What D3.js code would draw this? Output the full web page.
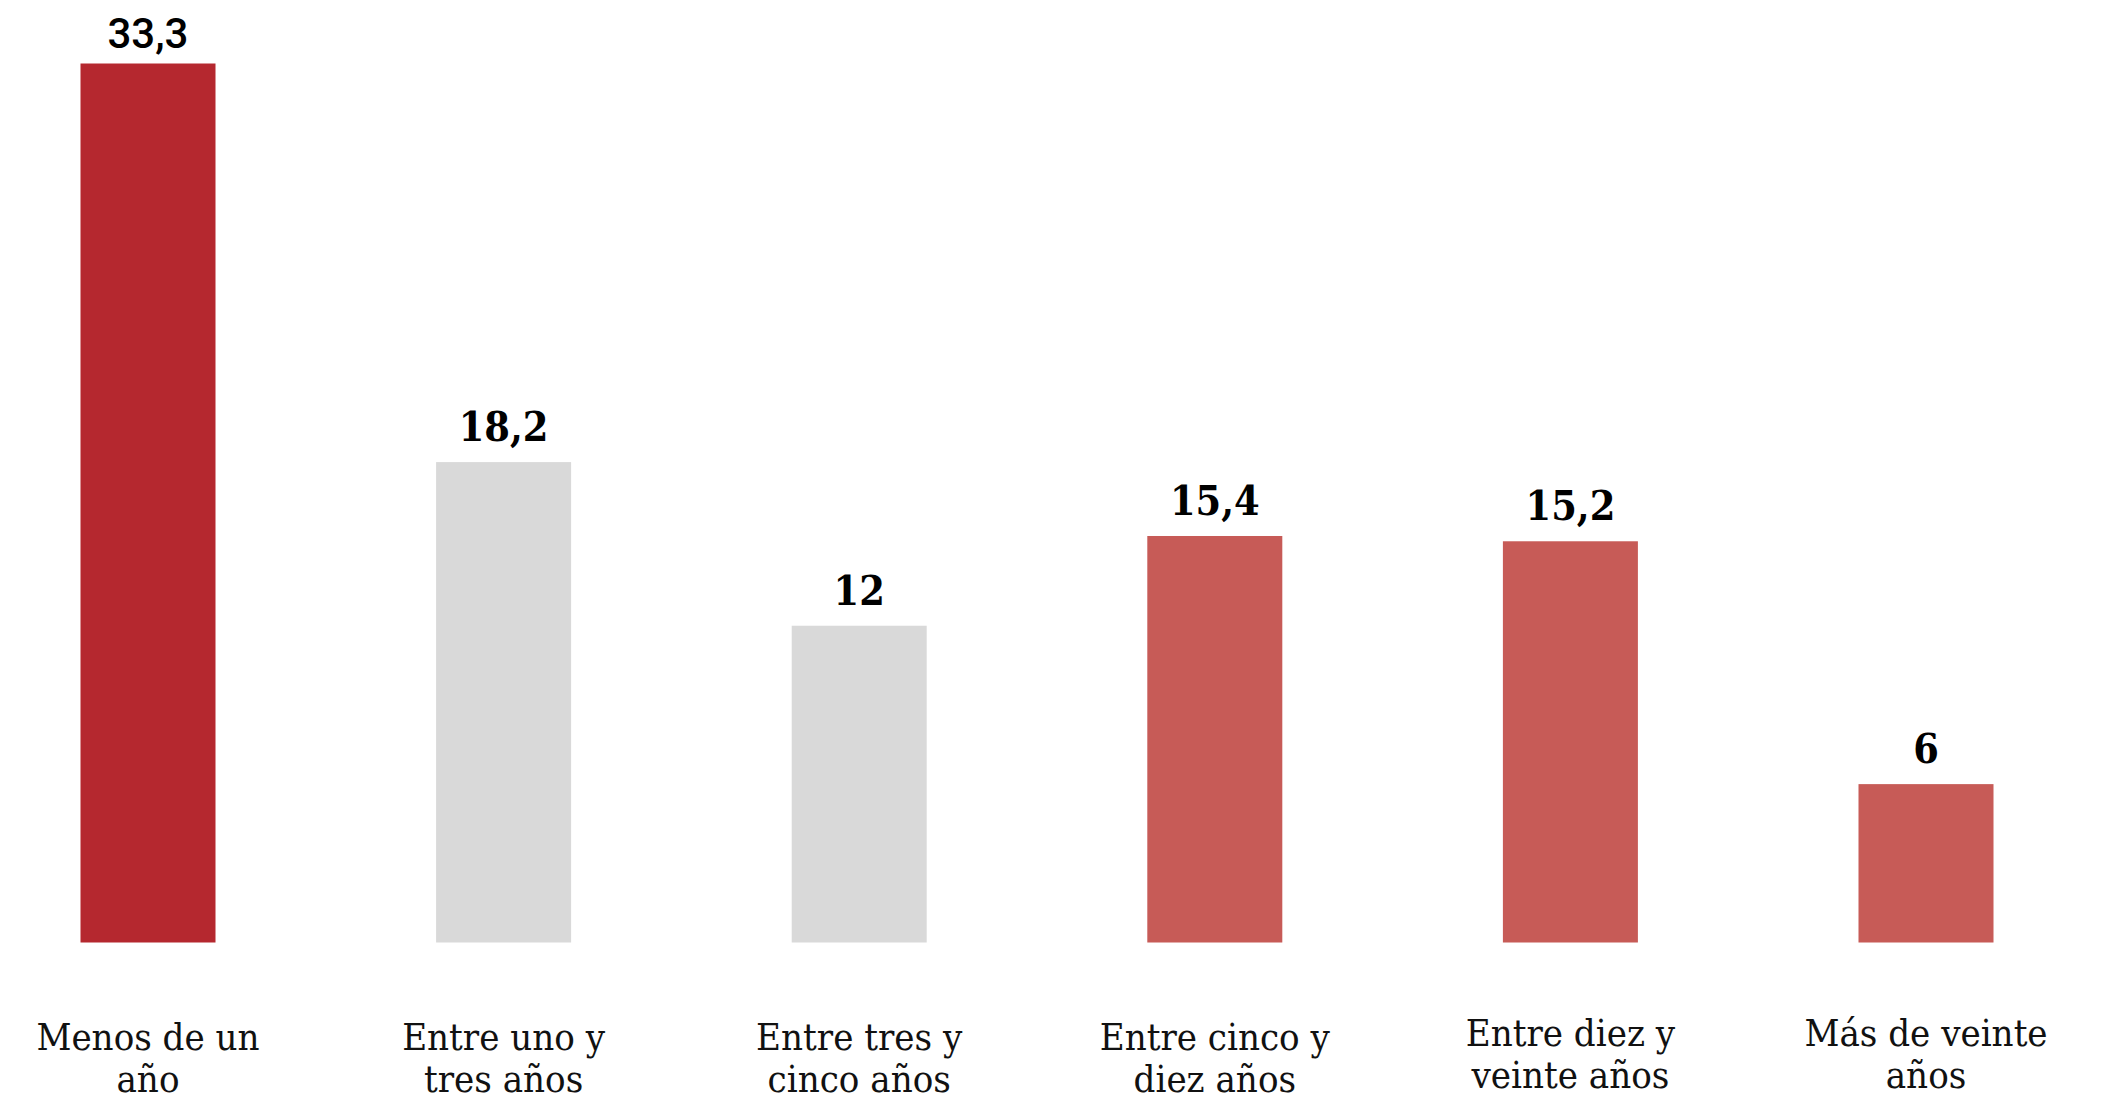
<!DOCTYPE html>
<html>
<head>
<meta charset="utf-8">
<script src="https://cdn.jsdelivr.net/npm/d3@7"></script>
<style>
  body { margin: 0; background: #fff; }
  .cat { font-family: "DejaVu Serif", serif; font-stretch: condensed; font-size: 38px; fill: #111; }
  .val { font-family: "DejaVu Serif", serif; font-stretch: condensed; font-weight: bold; font-size: 41px; fill: #000; }
</style>
</head>
<body>
<script>
// data
var categories = ["Menos de un año", "Entre uno y tres años", "Entre tres y cinco años",
                  "Entre cinco y diez años", "Entre diez y veinte años", "Más de veinte años"];
var labelLines = [["Menos de un", "año"], ["Entre uno y", "tres años"], ["Entre tres y", "cinco años"],
                  ["Entre cinco y", "diez años"], ["Entre diez y", "veinte años"], ["Más de veinte", "años"]];
var values = [33.3, 18.2, 12, 15.4, 15.2, 6];
var valueLabels = ["33,3", "18,2", "12", "15,4", "15,2", "6"];
var colors = ["#b5282f", "#d9d9d9", "#d9d9d9", "#c75b57", "#c75b57", "#c75b57"];

var width = 2111, height = 1100;
var baseY = 942.5, topY = 63.5;
var barW = 135;

var svg = d3.select("body").append("svg")
    .attr("width", width)
    .attr("height", height);

var x = d3.scalePoint().domain(categories).range([148, 1926]);
var y = d3.scaleLinear().domain([0, 33.3]).range([baseY, topY]);

// bars
svg.selectAll("rect.bar")
    .data(values)
  .enter().append("rect")
    .attr("class", "bar")
    .attr("x", function(d, i) { return x(categories[i]) - barW / 2; })
    .attr("y", function(d) { return y(d); })
    .attr("width", barW)
    .attr("height", function(d) { return baseY - y(d); })
    .style("fill", function(d, i) { return colors[i]; });

// value labels (first one is set in sans, like the original)
svg.selectAll("text.val")
    .data(values)
  .enter().append("text")
    .attr("class", "val")
    .attr("x", function(d, i) { return x(categories[i]); })
    .attr("y", function(d, i) { return y(d) - (i == 0 ? 16 : 21); })
    .attr("text-anchor", "middle")
    .style("font-family", function(d, i) { return i == 0 ? "Roboto, sans-serif" : null; })
    .style("font-weight", function(d, i) { return i == 0 ? "500" : null; })
    .style("font-stretch", function(d, i) { return i == 0 ? "normal" : null; })
    .style("font-size", function(d, i) { return i == 0 ? "42px" : null; })
    .text(function(d, i) { return valueLabels[i]; });

// category labels
var cat = svg.selectAll("text.cat")
    .data(categories)
  .enter().append("text")
    .attr("class", "cat")
    .attr("text-anchor", "middle")
    .attr("x", function(d) { return x(d); })
    .attr("y", function(d, i) { return i >= 4 ? 1046 : 1050; });

cat.selectAll("tspan")
    .data(function(d, i) { return labelLines[i]; })
  .enter().append("tspan")
    .attr("x", function() { return x(d3.select(this.parentNode).datum()); })
    .attr("dy", function(d, j) { return j == 0 ? 0 : 42; })
    .text(function(d) { return d; });
</script>
</body>
</html>
